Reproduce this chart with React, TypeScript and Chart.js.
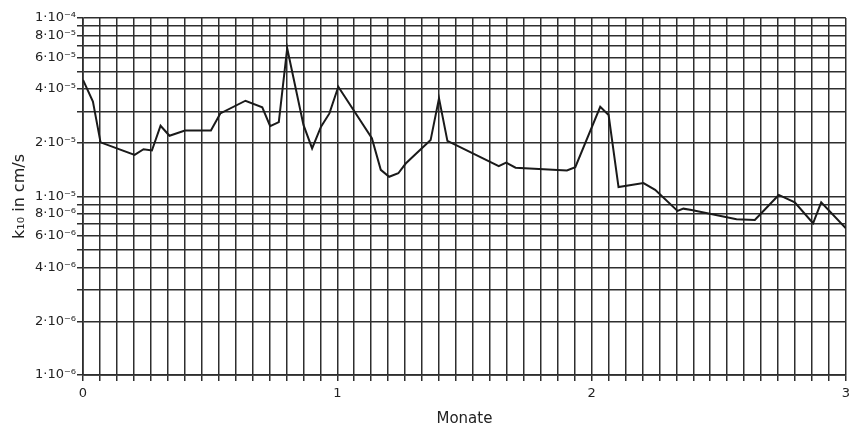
import React, { useEffect, useRef } from 'react';
import { Chart, registerables } from 'chart.js';

Chart.register(...registerables);

// Time in months
const months = [
  0, 0.039, 0.069, 0.203, 0.238, 0.271, 0.305, 0.34, 0.401, 0.503, 0.54,
  0.639, 0.705, 0.736, 0.77, 0.803, 0.867, 0.901, 0.936, 0.969, 1.004,
  1.136, 1.171, 1.204, 1.24, 1.269, 1.367, 1.4, 1.433, 1.635, 1.664, 1.701,
  1.903, 1.936, 2.034, 2.067, 2.106, 2.204, 2.25, 2.338, 2.361, 2.393,
  2.57, 2.642, 2.736, 2.799, 2.871, 2.903, 3.0,
];

// k10 in cm/s
const k10 = [
  4.5e-5, 3.4e-5, 2.01e-5, 1.71e-5, 1.84e-5, 1.81e-5, 2.49e-5, 2.19e-5, 2.34e-5, 2.34e-5, 2.92e-5,
  3.44e-5, 3.16e-5, 2.48e-5, 2.61e-5, 6.77e-5, 2.52e-5, 1.86e-5, 2.46e-5, 2.92e-5, 4.12e-5,
  2.12e-5, 1.41e-5, 1.29e-5, 1.35e-5, 1.53e-5, 2.07e-5, 3.55e-5, 2.05e-5, 1.48e-5, 1.55e-5, 1.45e-5,
  1.4e-5, 1.46e-5, 3.18e-5, 2.86e-5, 1.13e-5, 1.19e-5, 1.09e-5, 8.3e-6, 8.55e-6, 8.4e-6,
  7.45e-6, 7.38e-6, 1.02e-5, 9.28e-6, 7.08e-6, 9.28e-6, 6.64e-6,
];

// Axis ticks
const xMin = 0;
const xMax = 3;
const xDivisionsPerMonth = 15;
const yDecades = [-6, -5];
const yMantissas = [1, 2, 3, 4, 5, 6, 7, 8, 9];
const yTopTick = 1e-4;
const yLabelledMantissas = [1, 2, 4, 6, 8];

const SUP: Record<string, string> = {
  '-': '\u207B', '0': '\u2070', '1': '\u00B9', '2': '\u00B2', '3': '\u00B3',
  '4': '\u2074', '5': '\u2075', '6': '\u2076', '7': '\u2077', '8': '\u2078', '9': '\u2079',
};
const sup = (s: string) => s.split('').map((c) => SUP[c] ?? c).join('');

const FONT = "'DejaVu Sans', sans-serif";
const INK = '#222222';
const GRID = '#2e2e2e';

export default function App() {
  const ref = useRef<HTMLCanvasElement | null>(null);

  useEffect(() => {
    document.body.style.margin = '0';
    document.body.style.background = '#ffffff';
    const canvas = ref.current;
    if (!canvas) return;

    const yTicks: number[] = [];
    yDecades.forEach((e) => yMantissas.forEach((m) => yTicks.push(m * Math.pow(10, e))));
    yTicks.push(yTopTick);

    const xTicks: number[] = [];
    for (let i = 0; i <= (xMax - xMin) * xDivisionsPerMonth; i++) xTicks.push(xMin + i / xDivisionsPerMonth);

    const chart = new Chart(canvas, {
      type: 'line',
      data: {
        datasets: [
          {
            data: months.map((m, i) => ({ x: m, y: k10[i] })),
            borderColor: '#1a1a1a',
            borderWidth: 2,
            pointRadius: 0,
            tension: 0,
            fill: false,
          },
        ],
      },
      options: {
        responsive: false,
        animation: false,
        layout: { padding: { left: 0, top: 18, right: 7, bottom: 0 } },
        plugins: { legend: { display: false }, tooltip: { enabled: false } },
        scales: {
          x: {
            type: 'linear',
            min: xMin,
            max: xMax,
            afterBuildTicks: (scale: any) => {
              scale.ticks = xTicks.map((v) => ({ value: v }));
            },
            afterFit: (scale: any) => {
              scale.height = 53;
            },
            ticks: {
              autoSkip: false,
              maxRotation: 0,
              padding: 5,
              color: INK,
              font: { family: FONT, size: 13 },
              callback: (v: any) => {
                const n = Number(v);
                return Math.abs(n - Math.round(n)) < 1e-6 ? String(Math.round(n)) : '';
              },
            },
            grid: { color: GRID, lineWidth: 1.5, tickLength: 6, tickColor: GRID },
            border: { color: GRID, width: 1.7 },
            title: {
              display: true,
              text: 'Monate',
              color: INK,
              font: { family: FONT, size: 15 },
              padding: { top: 0, bottom: 0 },
            },
          },
          y: {
            type: 'logarithmic',
            min: 1e-6,
            max: 1e-4,
            afterBuildTicks: (scale: any) => {
              scale.ticks = yTicks.map((v) => ({ value: v }));
            },
            afterFit: (scale: any) => {
              scale.width = 83;
            },
            ticks: {
              autoSkip: false,
              padding: 1,
              color: INK,
              font: { family: FONT, size: 13 },
              callback: (v: any) => {
                const n = Number(v);
                const e = Math.floor(Math.log10(n) + 1e-9);
                const m = Math.round(n / Math.pow(10, e));
                if (!yLabelledMantissas.includes(m)) return '';
                return `${m}\u00B710${sup(String(e))}`;
              },
            },
            grid: { color: GRID, lineWidth: 1.5, tickLength: 6, tickColor: GRID },
            border: { color: GRID, width: 1.7 },
            title: {
              display: true,
              text: 'k\u2081\u2080 in cm/s',
              color: INK,
              font: { family: FONT, size: 16 },
              padding: { top: 10, bottom: 0 },
            },
          },
        },
      },
    });

    return () => chart.destroy();
  }, []);

  return <canvas ref={ref} width={855} height={428} style={{ display: 'block' }} />;
}
